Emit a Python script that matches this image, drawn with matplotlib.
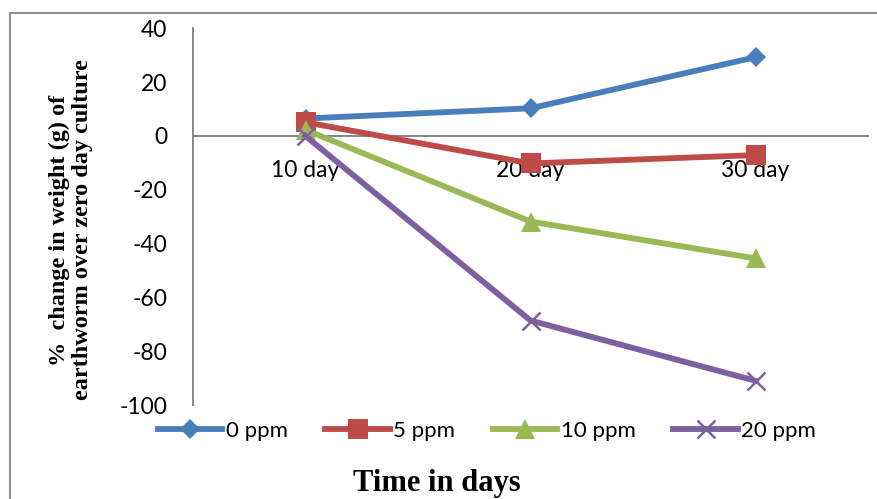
import matplotlib.pyplot as plt
from matplotlib.lines import Line2D

days = ["10 day", "20 day", "30 day"]
ppm0 = [6.5, 10.3, 29.3]
ppm5 = [5.1, -10.2, -7.1]
ppm10 = [2.3, -31.8, -45.5]
ppm20 = [0.0, -68.6, -91.0]

series = [
    ("0 ppm", ppm0, "#4A7EBB", "D", 10),
    ("5 ppm", ppm5, "#BE4B48", "s", 14),
    ("10 ppm", ppm10, "#98B954", "^", 14),
    ("20 ppm", ppm20, "#7D60A0", "x", 13),
]

plt.rcParams["axes.unicode_minus"] = False
tick_font = "Lato"
serif = "Liberation Serif"

fig = plt.figure(figsize=(8.77, 4.99), dpi=100)
ax = fig.add_axes([193 / 877, 1 - 405 / 499, (868 - 193) / 877, (405 - 28.4) / 499])

x = list(range(len(days)))
for name, vals, color, marker, ms in series:
    if marker == "x":
        ax.plot(x, vals, color=color, lw=4.2, marker=marker, ms=ms, mew=1.8, label=name, clip_on=False)
    else:
        ax.plot(x, vals, color=color, lw=4.2, marker=marker, ms=ms, mew=0, label=name, clip_on=False)

ax.set_xlim(-0.5, 2.5)
ax.set_ylim(-100, 40)
ax.set_yticks(range(-100, 41, 20))

gray = "#868686"
for s in ["top", "right"]:
    ax.spines[s].set_visible(False)
ax.spines["left"].set_color(gray)
ax.spines["left"].set_linewidth(1.4)
ax.spines["bottom"].set_position(("data", 0))
ax.spines["bottom"].set_color(gray)
ax.spines["bottom"].set_linewidth(1.4)
ax.spines["bottom"].set_zorder(0)

ax.set_xticks(x)
ax.set_xticklabels(days)
ax.tick_params(axis="x", length=0, pad=17, labelsize=16.5)
ax.tick_params(axis="y", length=0, pad=18.5, labelsize=16.5)
for lbl in ax.get_xticklabels() + ax.get_yticklabels():
    lbl.set_fontfamily(tick_font)

leg = fig.legend(loc="center", bbox_to_anchor=(487 / 877, 1 - 431 / 499), ncol=4,
                 frameon=False, prop={"family": tick_font, "size": 16},
                 handlelength=2.9, handletextpad=0.15, columnspacing=1.7)

fig.text(437 / 877, 1 - 483 / 499, "Time in days", ha="center", va="center",
         fontsize=22, fontweight="bold", family=serif)
fig.text(71 / 877, 1 - 230 / 499, "%  change in weight (g) of\nearthworm over zero day culture",
         rotation=90, ha="center", va="center", fontsize=17.5, fontweight="bold",
         family=serif, linespacing=1.12, multialignment="center")

# chart area border
fig.add_artist(Line2D([10 / 877, 1], [1 - 13 / 499, 1 - 13 / 499], color="#8c8c8c", lw=1.4))
fig.add_artist(Line2D([10 / 877, 10 / 877], [0, 1 - 13 / 499], color="#8c8c8c", lw=1.4))

fig.savefig("out.png", dpi=100)
